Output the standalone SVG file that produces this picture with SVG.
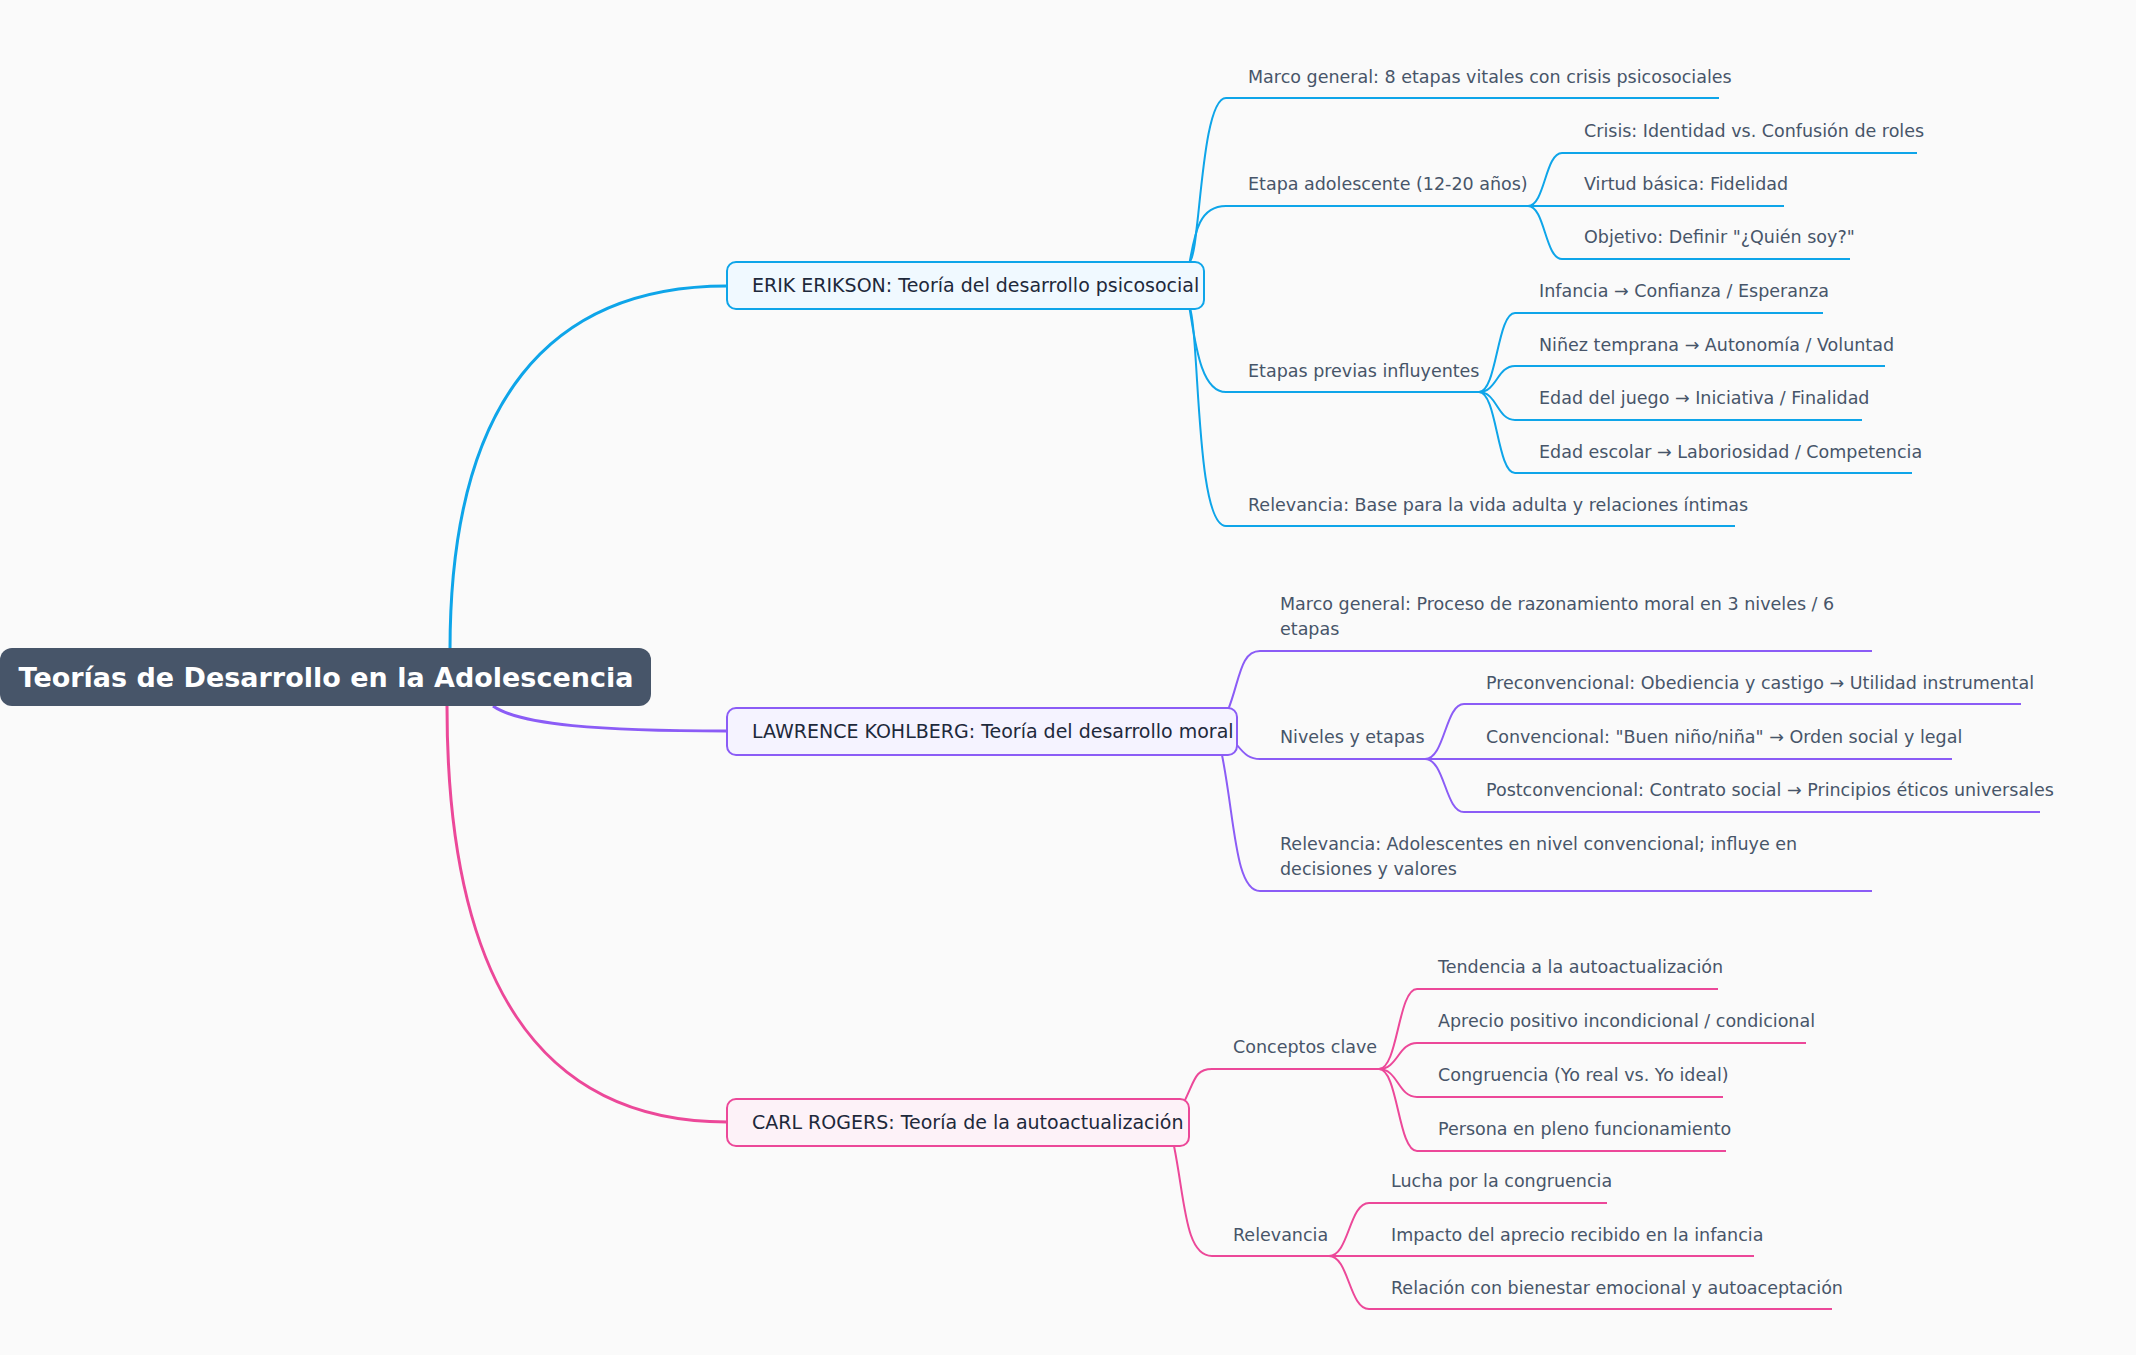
<svg xmlns="http://www.w3.org/2000/svg" width="2136" height="1355" viewBox="0 0 2136 1355">
<style>
text{font-family:"DejaVu Sans","Noto Sans",sans-serif}
.t{font-size:17.5px;fill:#475569}
.n{font-size:19px;fill:#1e293b}
.e{stroke:#0ea5e9}.k{stroke:#8b5cf6}.r{stroke:#ec4899}
.c path{fill:none;stroke-width:2}
.c path.m{stroke-width:3}
</style>
<rect width="2136" height="1355" fill="#fafafa"/>
<g class="c" id="connectors">
<path class="m e" d="M450 650 C450 400 550 286 727 286"/>
<path class="m k" d="M493 706 C520 725 600 731 727 731"/>
<path class="m r" d="M447 706 C447 950 520 1122 727 1122"/>
<!-- Erikson -->
<path class="e" d="M1189 262 C1200 262 1200 98 1226 98 H1719"/>
<path class="e" d="M1189 266 C1195 230 1200 206 1226 206 H1528"/>
<path class="e" d="M1189 305 C1195 340 1200 392 1226 392 H1479"/>
<path class="e" d="M1189 305 C1200 330 1195 526 1226 526 H1735"/>
<path class="e" d="M1528 206 C1545 206 1545 153 1562 153 H1917"/>
<path class="e" d="M1528 206 H1784"/>
<path class="e" d="M1528 206 C1545 206 1545 259 1562 259 H1850"/>
<path class="e" d="M1479 392 C1497 392 1497 313 1515 313 H1823"/>
<path class="e" d="M1479 392 C1497 392 1497 366 1515 366 H1885"/>
<path class="e" d="M1479 392 C1497 392 1497 420 1515 420 H1862"/>
<path class="e" d="M1479 392 C1497 392 1497 473 1515 473 H1912"/>
<!-- Kohlberg -->
<path class="k" d="M1228 710 C1240 680 1240 651 1260 651 H1872"/>
<path class="k" d="M1237 745 C1245 755 1250 759 1260 759 H1425"/>
<path class="k" d="M1222 755 C1235 820 1235 891 1260 891 H1872"/>
<path class="k" d="M1425 759 C1445 759 1445 704 1464 704 H2021"/>
<path class="k" d="M1425 759 H1952"/>
<path class="k" d="M1425 759 C1445 759 1445 812 1464 812 H2040"/>
<!-- Rogers -->
<path class="r" d="M1184 1102 C1195 1080 1195 1069 1212 1069 H1379"/>
<path class="r" d="M1174 1146 C1185 1200 1185 1256 1212 1256 H1329"/>
<path class="r" d="M1379 1069 C1398 1069 1398 989 1417 989 H1718"/>
<path class="r" d="M1379 1069 C1398 1069 1398 1043 1417 1043 H1806"/>
<path class="r" d="M1379 1069 C1398 1069 1398 1097 1417 1097 H1723"/>
<path class="r" d="M1379 1069 C1398 1069 1398 1151 1417 1151 H1726"/>
<path class="r" d="M1329 1256 C1349 1256 1349 1203 1369 1203 H1607"/>
<path class="r" d="M1329 1256 H1754"/>
<path class="r" d="M1329 1256 C1349 1256 1349 1309 1369 1309 H1832"/>
</g>
<g id="root"><rect x="0" y="648" width="651" height="58" rx="12" fill="#475569"/><text x="326" y="687" text-anchor="middle" font-size="27" font-weight="bold" fill="#fff">Teorías de Desarrollo en la Adolescencia</text></g>
<g id="erikson"><rect x="727" y="262" width="477" height="47" rx="9" fill="#f0f9ff" stroke="#0ea5e9" stroke-width="2"/><text class="n" x="752" y="292">ERIK ERIKSON: Teoría del desarrollo psicosocial</text></g>
<g id="kohlberg"><rect x="727" y="708" width="510" height="47" rx="9" fill="#f5f3ff" stroke="#8b5cf6" stroke-width="2"/><text class="n" x="752" y="738">LAWRENCE KOHLBERG: Teoría del desarrollo moral</text></g>
<g id="rogers"><rect x="727" y="1099" width="462" height="47" rx="9" fill="#fdf2f8" stroke="#ec4899" stroke-width="2"/><text class="n" x="752" y="1129">CARL ROGERS: Teoría de la autoactualización</text></g>
<g id="leaves">
<text class="t" x="1248" y="83">Marco general: 8 etapas vitales con crisis psicosociales</text>
<text class="t" x="1248" y="190">Etapa adolescente (12-20 años)</text>
<text class="t" x="1584" y="137">Crisis: Identidad vs. Confusión de roles</text>
<text class="t" x="1584" y="190">Virtud básica: Fidelidad</text>
<text class="t" x="1584" y="243">Objetivo: Definir "¿Quién soy?"</text>
<text class="t" x="1248" y="377">Etapas previas influyentes</text>
<text class="t" x="1539" y="297">Infancia → Confianza / Esperanza</text>
<text class="t" x="1539" y="351">Niñez temprana → Autonomía / Voluntad</text>
<text class="t" x="1539" y="404">Edad del juego → Iniciativa / Finalidad</text>
<text class="t" x="1539" y="458">Edad escolar → Laboriosidad / Competencia</text>
<text class="t" x="1248" y="511">Relevancia: Base para la vida adulta y relaciones íntimas</text>
<text class="t" x="1280" y="610">Marco general: Proceso de razonamiento moral en 3 niveles / 6</text>
<text class="t" x="1280" y="635">etapas</text>
<text class="t" x="1280" y="743">Niveles y etapas</text>
<text class="t" x="1486" y="689">Preconvencional: Obediencia y castigo → Utilidad instrumental</text>
<text class="t" x="1486" y="743">Convencional: "Buen niño/niña" → Orden social y legal</text>
<text class="t" x="1486" y="796">Postconvencional: Contrato social → Principios éticos universales</text>
<text class="t" x="1280" y="850">Relevancia: Adolescentes en nivel convencional; influye en</text>
<text class="t" x="1280" y="875">decisiones y valores</text>
<text class="t" x="1233" y="1053">Conceptos clave</text>
<text class="t" x="1438" y="973">Tendencia a la autoactualización</text>
<text class="t" x="1438" y="1027">Aprecio positivo incondicional / condicional</text>
<text class="t" x="1438" y="1081">Congruencia (Yo real vs. Yo ideal)</text>
<text class="t" x="1438" y="1135">Persona en pleno funcionamiento</text>
<text class="t" x="1233" y="1241">Relevancia</text>
<text class="t" x="1391" y="1187">Lucha por la congruencia</text>
<text class="t" x="1391" y="1241">Impacto del aprecio recibido en la infancia</text>
<text class="t" x="1391" y="1294">Relación con bienestar emocional y autoaceptación</text>
</g>
</svg>
